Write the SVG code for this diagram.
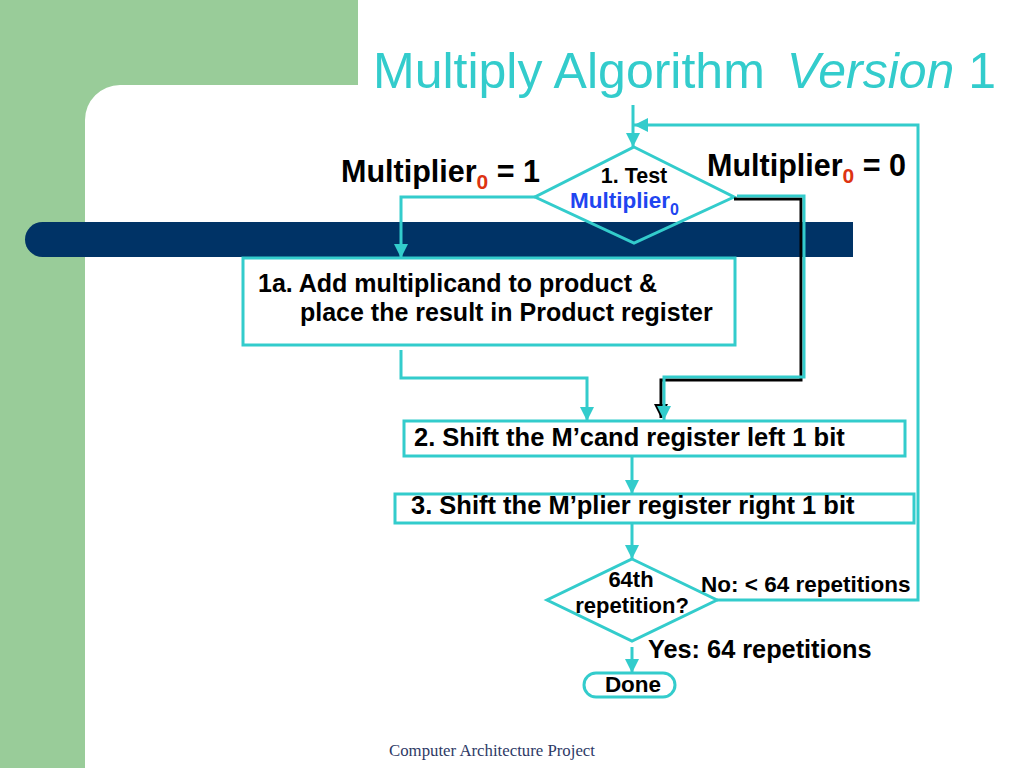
<svg xmlns="http://www.w3.org/2000/svg" width="1024" height="768" viewBox="0 0 1024 768">
<defs>
<style>
.ln{fill:none;stroke:#33CCCC;stroke-width:3}
.sh{fill:none;stroke:#000;stroke-width:3}
.box{fill:#fff;stroke:#33CCCC;stroke-width:3}
.dia{fill:none;stroke:#33CCCC;stroke-width:3}
.t{font-family:"Liberation Sans",Arial,Helvetica,sans-serif;font-weight:bold;fill:#000}
.red{fill:#DD3311}
.blue{fill:#1F45F0}
</style>
<marker id="ah" markerUnits="userSpaceOnUse" markerWidth="14" markerHeight="14" refX="14" refY="7" orient="auto">
<path d="M0,0 L14,7 L0,14 Z" fill="#33CCCC"/>
</marker>
<marker id="ahk" markerUnits="userSpaceOnUse" markerWidth="14" markerHeight="14" refX="14" refY="7" orient="auto">
<path d="M0,0 L14,7 L0,14 Z" fill="#000"/>
</marker>
</defs>
<rect width="1024" height="768" fill="#fff"/>
<path d="M0,0 H358 V85 H120 A35,35 0 0 0 85,120 V768 H0 Z" fill="#99CC99"/>
<path d="M42.5,222 H853 V257 H42.5 A17.5,17.5 0 0 1 42.5,222 Z" fill="#003366"/>
<text x="373" y="88" font-family="Liberation Sans,Arial,sans-serif" font-size="50" fill="#33CCCC">Multiply Algorithm <tspan dx="8" font-style="italic">Version</tspan> 1</text>

<g id="test1">
<polygon class="dia" points="634,147 734,197 634,243 535,197"/>
<text class="t" x="634" y="183" font-size="21.5" text-anchor="middle">1. Test</text>
<text class="t blue" x="570" y="208" font-size="22.5">Multiplier<tspan font-size="16" dy="7">0</tspan></text>
</g>
<g id="lbl1">
<text class="t" x="341" y="182" font-size="30.5">Multiplier<tspan class="red" font-size="21" dy="7">0</tspan><tspan dy="-7"> = 1</tspan></text>
</g>
<g id="lbl0">
<text class="t" x="707" y="176" font-size="30.5">Multiplier<tspan class="red" font-size="21" dy="7">0</tspan><tspan dy="-7"> = 0</tspan></text>
</g>
<g id="step1a">
<rect class="box" x="243" y="258" width="492" height="87"/>
<text class="t" x="258" y="292" font-size="25">1a. Add multiplicand to product &amp;</text>
<text class="t" x="300" y="321" font-size="25">place the result in Product register</text>
</g>
<g id="step2">
<rect class="box" x="404" y="421" width="501" height="35"/>
<text class="t" x="414" y="446" font-size="25.5">2. Shift the M’cand register left 1 bit</text>
</g>
<g id="step3">
<rect class="box" x="395" y="494" width="519" height="29"/>
<text class="t" x="411" y="514" font-size="25.5">3. Shift the M’plier register right 1 bit</text>
</g>
<g id="test64">
<polygon class="dia" points="632,559 717,600 632,641 547,600"/>
<text class="t" x="631" y="587" font-size="22" text-anchor="middle">64th</text>
<text class="t" x="632" y="613" font-size="22" text-anchor="middle">repetition?</text>
</g>
<g id="lblNo">
<text class="t" x="701" y="592" font-size="22.5">No: &lt; 64 repetitions</text>
</g>
<g id="lblYes">
<text class="t" x="648" y="658" font-size="25.3">Yes: 64 repetitions</text>
</g>
<g id="done">
<rect class="box" x="584" y="673" width="91" height="24" rx="12"/>
<text class="t" x="633" y="692" font-size="22.5" text-anchor="middle">Done</text>
</g>

<g id="connectors">
<path class="ln" d="M633,105 V147" marker-end="url(#ah)"/>
<path class="ln" d="M717,600 H918 V125 H634" marker-end="url(#ah)"/>
<path class="ln" d="M535,197 H401 V258" marker-end="url(#ah)"/>
<path class="ln" d="M401,350 V378 H587 V421" marker-end="url(#ah)"/>
<path class="sh" d="M734,199 H801 V380 H661 V418" marker-end="url(#ahk)"/>
<path class="ln" d="M737,196 H804 V377 H664 V420" marker-end="url(#ah)"/>
<path class="ln" d="M632,456 V494" marker-end="url(#ah)"/>
<path class="ln" d="M632,523 V559" marker-end="url(#ah)"/>
<path class="ln" d="M632,647 V673" marker-end="url(#ah)"/>
</g>

<text x="389" y="756" font-family="Liberation Serif,Times New Roman,serif" font-size="16.8" fill="#2E3A66">Computer Architecture Project</text>
</svg>
